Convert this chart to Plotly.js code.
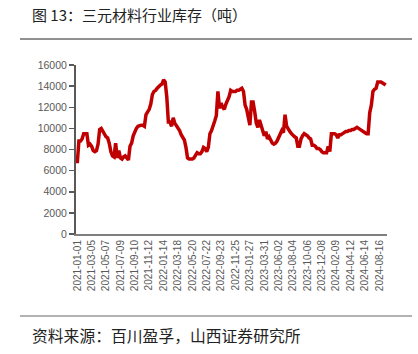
<!DOCTYPE html>
<html>
<head>
<meta charset="utf-8">
<script src="https://cdn.plot.ly/plotly-3.0.1.min.js"></script>
<style>
html,body{margin:0;padding:0;background:#fff;}
#chart{width:418px;height:354px;}
</style>
</head>
<body>
<div id="chart"></div>
<script>
// Weekly inventory (tons), starting 2021-01-01
const startDate = "2021-01-01";
const inventory = [
  6700, 8800, 8800, 9000, 9500, 9500, 9500, 8400, 8500, 8300,
  7900, 7800, 7900, 8500, 9900, 10000, 9700, 9400, 9200, 9100,
  8600, 7800, 7400, 7300, 8600, 7200, 7900, 7200, 7100, 7300,
  7400, 7200, 7000, 8300, 8600, 9300, 9700, 10000, 10200, 10300,
  10300, 10300, 10200, 11300, 11600, 11800, 12300, 13200, 13500, 13600,
  13800, 14000, 14100, 14200, 14600, 14400, 13000, 10600, 10600, 10200,
  11000, 10500, 10300, 10000, 9800, 9400, 9200, 8900, 8200, 7200,
  7100, 7100, 7100, 7200, 7500, 7700, 7600, 7600, 7800, 8200,
  8100, 7800, 8200, 9500, 9800, 10400, 10700, 11200, 13500, 11900,
  12400, 12000, 11800, 12300, 12600, 13000, 13600, 13500, 13500, 13500,
  13600, 13600, 13700, 13800, 13500, 12200, 11800, 11000, 10300, 12500,
  12500, 11600, 10500, 10100, 10800, 10300, 9800, 9300, 9700, 9000,
  9200, 8900, 8600, 8500, 8600, 8800, 9200, 9500, 9800, 9600,
  11300, 10200, 9900, 9700, 9500, 9300, 9200, 9100, 8300, 8300,
  9000, 9300, 9500, 9400, 9300, 9100, 9000, 8400, 8400, 8300,
  8100, 8100, 8000, 7800, 7700, 7700, 7700, 8300, 7800, 9500,
  9500, 9500, 9400, 9100, 9400, 9400, 9500, 9600, 9700, 9700,
  9800, 9800, 9900, 9900, 10000, 10100, 10000, 9900, 9800, 9700,
  9600, 9500, 9500, 11500, 12200, 13500, 13700, 13800, 14400, 14400,
  14400, 14300, 14200, 14100
];
const tickLabels = [
  "2021-01-01","2021-03-05","2021-05-07","2021-07-09","2021-09-10","2021-11-12",
  "2022-01-14","2022-03-18","2022-05-20","2022-07-22","2022-09-23","2022-11-25",
  "2023-01-27","2023-03-31","2023-06-02","2023-08-04","2023-10-06","2023-12-08",
  "2024-02-09","2024-04-12","2024-06-14","2024-08-16"
];
const yTicks = [0, 2000, 4000, 6000, 8000, 10000, 12000, 14000, 16000];
const titleText = "图 13：三元材料行业库存（吨）";
const sourceText = "资料来源：百川盈孚，山西证券研究所";

// weekly category labels
const dates = [];
const d0 = new Date(startDate + "T00:00:00Z");
for (let i = 0; i < inventory.length; i++) {
  const d = new Date(d0.getTime() + i * 7 * 86400000);
  dates.push(d.toISOString().slice(0, 10));
}

const trace = {
  x: dates,
  y: inventory,
  type: "scatter",
  mode: "lines",
  line: {color: "#C00000", width: 3.5},
  hoverinfo: "x+y"
};

const layout = {
  width: 418, height: 354,
  margin: {l: 76, r: 31, t: 65, b: 120},
  paper_bgcolor: "#fff", plot_bgcolor: "#fff",
  showlegend: false,
  font: {family: "Liberation Sans, Arial, sans-serif", color: "#595959"},
  xaxis: {
    type: "category",
    range: [-0.8, inventory.length - 0.2],
    tickmode: "array",
    tickvals: tickLabels,
    ticktext: tickLabels,
    tickangle: -90,
    tickfont: {size: 10, color: "#595959"},
    showgrid: false, zeroline: false,
    showline: true, linecolor: "#7f7f7f", linewidth: 2,
    ticks: "", ticklen: 0
  },
  yaxis: {
    range: [0, 16000],
    tickmode: "array",
    tickvals: yTicks,
    ticktext: yTicks.map(String),
    tickfont: {size: 10.5, color: "#595959"},
    showgrid: false, zeroline: false,
    showline: true, linecolor: "#595959", linewidth: 2,
    ticks: "outside", ticklen: 5, tickcolor: "#595959", tickwidth: 1.5
  },
  shapes: [
    {type: "line", xref: "paper", yref: "paper",
     x0: (20 - 76) / 311, x1: (412 - 76) / 311,
     y0: (234 - 39) / 169, y1: (234 - 39) / 169,
     line: {color: "#222", width: 1}},
    {type: "line", xref: "paper", yref: "paper",
     x0: (20 - 76) / 311, x1: (412 - 76) / 311,
     y0: (234 - 316) / 169, y1: (234 - 316) / 169,
     line: {color: "#9a9a9a", width: 1.5}}
  ],
  annotations: [
    {text: titleText, xref: "paper", yref: "paper",
     x: (30 - 76) / 311, y: (234 - 14) / 169,
     xanchor: "left", yanchor: "middle", showarrow: false,
     font: {family: "Noto Sans CJK SC, sans-serif", size: 15, color: "#222"}},
    {text: sourceText, xref: "paper", yref: "paper",
     x: (30 - 76) / 311, y: (234 - 335) / 169,
     xanchor: "left", yanchor: "middle", showarrow: false,
     font: {family: "Noto Sans CJK SC, sans-serif", size: 15.8, color: "#222"}}
  ]
};

Plotly.newPlot("chart", [trace], layout, {displayModeBar: false, staticPlot: true});
</script>
</body>
</html>
